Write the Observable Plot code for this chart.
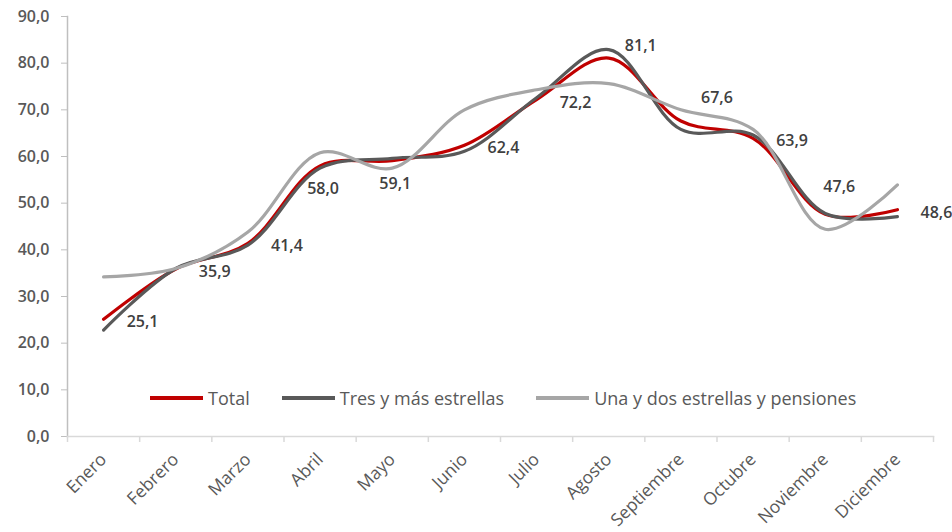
<!DOCTYPE html>
<html><head><meta charset="utf-8">
<script src="https://cdn.jsdelivr.net/npm/d3@7"></script>
<script src="https://cdn.jsdelivr.net/npm/@observablehq/plot@0.6"></script>
<style>
body{margin:0;background:#fff;font-family:"Open Sans",sans-serif;}
#wrap{position:relative;width:952px;height:532px;}
#legend{position:absolute;left:150px;top:386px;display:flex;align-items:center;font-size:18px;color:#595959;white-space:nowrap;}
#legend .item{display:flex;align-items:center;margin-right:32px;}
#legend .sw{width:53px;height:3.5px;margin-right:5px;}
</style>
</head><body>
<div id="wrap"><div id="legend"></div></div>
<script>
const months = ["Enero","Febrero","Marzo","Abril","Mayo","Junio","Julio","Agosto","Septiembre","Octubre","Noviembre","Diciembre"];
const total = [25.1, 35.9, 41.4, 58.0, 59.1, 62.4, 72.2, 81.1, 67.6, 63.9, 47.6, 48.6];
const tres  = [22.8, 36.0, 41.0, 57.5, 59.6, 61.1, 72.6, 82.9, 65.8, 64.6, 47.8, 47.1];
const una   = [34.2, 36.0, 43.8, 60.8, 57.5, 70.0, 74.3, 75.6, 70.0, 65.8, 44.4, 53.9];
const seriesNames = ["Total", "Tres y más estrellas", "Una y dos estrellas y pensiones"];
const yTicks = [0, 10, 20, 30, 40, 50, 60, 70, 80, 90];
const labelPos = ["right","right","right","below","below","right","right","upright","upright2","right","above","right"];

const colors = ["#C00000", "#595959", "#A6A6A6"];
const offsets = {
  right:   {dx: 39, dy: 3},
  below:   {dx: 3, dy: 23},
  above:   {dx: 14, dy: -27},
  upright: {dx: 32, dy: -12},
  upright2:{dx: 36, dy: -23}
};
const fmt = v => d3.format(".1f")(v).replace(".", ",");

const seriesData = [total, tres, una];
const rows = seriesData.flatMap((arr, s) => arr.map((v, i) => ({i, v, series: seriesNames[s]})));
const totalRows = total.map((v, i) => ({i, v, pos: labelPos[i]}));

const labelMarks = Object.entries(offsets).map(([k, o]) =>
  Plot.text(totalRows.filter(d => d.pos === k), {
    x: "i", y: "v", text: d => fmt(d.v), dx: o.dx, dy: o.dy,
    fill: "#404040", fontSize: 16, fontWeight: 600
  })
);

const chart = Plot.plot({
  width: 952, height: 532,
  marginLeft: 67, marginRight: 19, marginTop: 16, marginBottom: 96,
  style: {fontFamily: "'Open Sans', sans-serif", fontSize: "15px", background: "#fff"},
  x: {type: "linear", domain: [-0.5, 11.5], label: null},
  y: {domain: [0, 90], label: null},
  color: {domain: seriesNames, range: colors},
  marks: [
    Plot.axisY({ticks: yTicks, tickFormat: fmt, tickSize: 6, tickPadding: 12, stroke: "#bfbfbf", fill: "#595959", fontWeight: 600, fontSize: 16}),
    Plot.frame({anchor: "left", stroke: "#bfbfbf", strokeWidth: 1.5}),
    Plot.axisX({ticks: d3.range(-0.5, 12, 1), tickSize: 6, tickFormat: () => "", stroke: "#d9d9d9", strokeWidth: 1.5}),
    Plot.axisX({ticks: d3.range(0, 12), tickSize: 0, tickPadding: 20, tickRotate: -45, tickFormat: i => months[i], fill: "#595959", fontSize: 17.5}),
    Plot.frame({anchor: "bottom", stroke: "#d9d9d9", strokeWidth: 1.5}),
    Plot.line(rows, {x: "i", y: "v", z: "series", stroke: "series", strokeWidth: 3.2, curve: "catmull-rom"}),
    ...labelMarks
  ]
});
document.getElementById("wrap").prepend(chart);

const legend = document.getElementById("legend");
seriesNames.forEach((n, k) => {
  const it = document.createElement("div"); it.className = "item";
  const sw = document.createElement("div"); sw.className = "sw"; sw.style.background = colors[k];
  const tx = document.createElement("span"); tx.textContent = n;
  it.append(sw, tx); legend.append(it);
});
</script>
</body></html>
